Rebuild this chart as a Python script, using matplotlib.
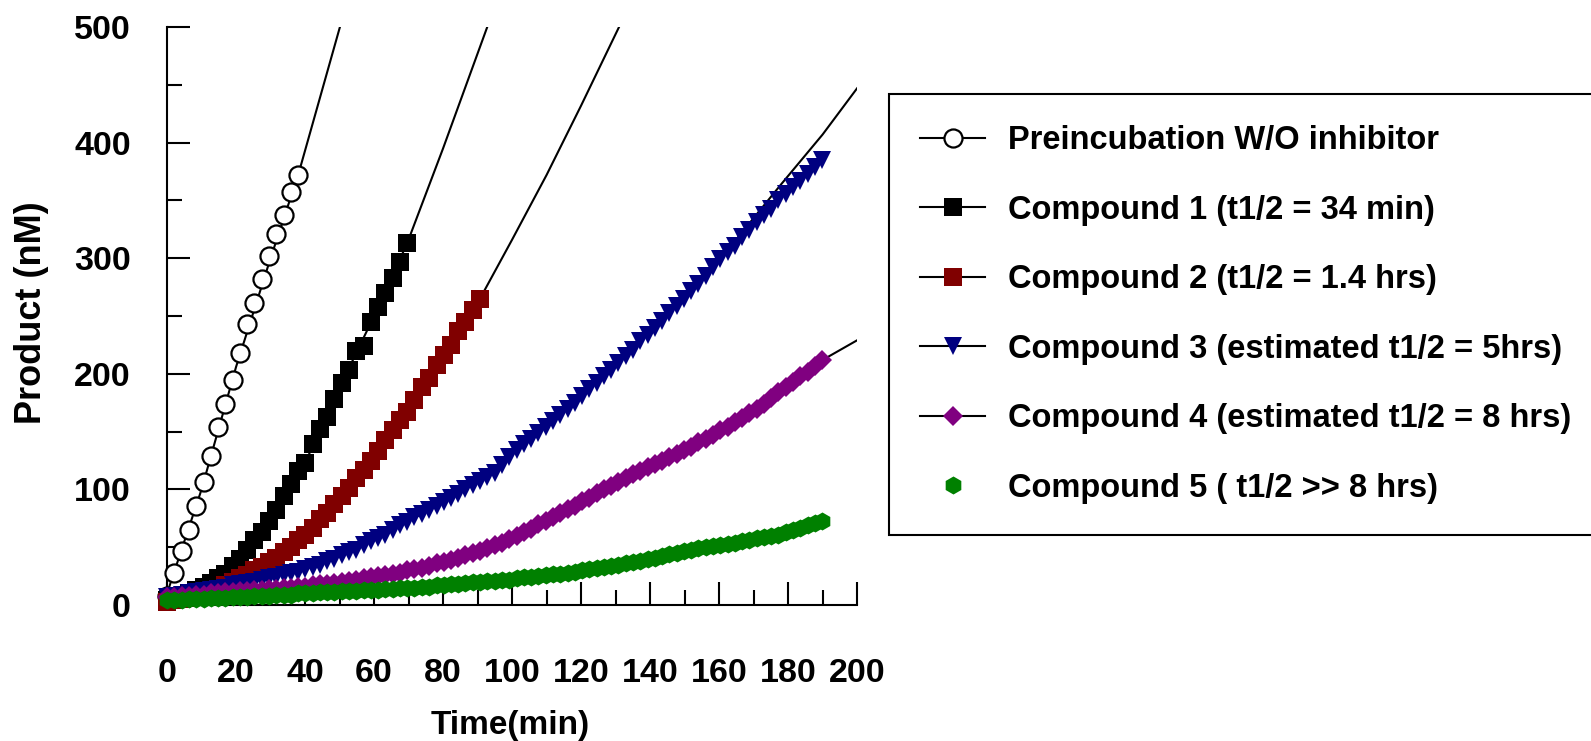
import matplotlib.pyplot as plt
from matplotlib.ticker import MultipleLocator
from matplotlib.legend_handler import HandlerTuple

plt.rcParams['font.family'] = 'Liberation Sans'
plt.rcParams['font.weight'] = 'bold'
plt.rcParams['axes.labelweight'] = 'bold'

# plate reader sampling times (min)
time_min = [
    0.0, 2.1, 4.2, 6.3, 8.4, 10.6, 12.7, 14.8, 16.9, 19.0,
    21.1, 23.2, 25.3, 27.4, 29.5, 31.7, 33.8, 35.9, 38.0, 40.1,
    42.2, 44.3, 46.4, 48.5, 50.6, 52.8, 54.9, 57.0, 59.1, 61.2,
    63.3, 65.4, 67.5, 69.6, 71.7, 73.9, 76.0, 78.1, 80.2, 82.3,
    84.4, 86.5, 88.6, 90.7, 92.8, 95.0, 97.1, 99.2, 101.3, 103.4,
    105.5, 107.6, 109.7, 111.8, 113.9, 116.1, 118.2, 120.3, 122.4, 124.5,
    126.6, 128.7, 130.8, 132.9, 135.0, 137.2, 139.3, 141.4, 143.5, 145.6,
    147.7, 149.8, 151.9, 154.0, 156.1, 158.3, 160.4, 162.5, 164.6, 166.7,
    168.8, 170.9, 173.0, 175.1, 177.2, 179.4, 181.5, 183.6, 185.7, 187.8,
    189.9]

# product (nM)
preinc = [8, 28, 47, 65, 86, 106, 129, 154, 174, 195, 218, 243, 261, 282,
          302, 321, 337, 357, 372]
cmpd1 = [4, 6, 8, 10, 13, 16, 19, 23, 27, 34,
         40, 48, 56, 63, 73, 82, 94, 105, 116, 123,
         139, 152, 163, 178, 192, 203, 220, 224, 245, 258,
         270, 283, 297, 313]
cmpd2 = [3, 4, 5, 6, 8, 10, 12, 14, 17, 20,
         23, 26, 30, 33, 37, 41, 46, 50, 56, 61,
         67, 74, 80, 87, 94, 101, 110, 117, 125, 133,
         143, 151, 160, 167, 177, 189, 196, 208, 216, 225,
         237, 245, 255, 265]
cmpd3 = [7, 8, 9, 10, 11, 12, 13, 14, 15, 17,
         18, 19, 20, 22, 23, 24, 26, 28, 29, 31,
         33, 35, 38, 40, 43, 46, 48, 52, 55, 58,
         61, 65, 69, 72, 76, 79, 82, 86, 89, 93,
         96, 100, 104, 107, 111, 114, 121, 128, 134, 139,
         144, 149, 154, 159, 164, 170, 175, 181, 187, 192,
         198, 203, 209, 215, 221, 228, 234, 240, 246, 253,
         259, 265, 272, 278, 285, 292, 299, 305, 311, 318,
         324, 331, 337, 343, 350, 356, 362, 367, 373, 379,
         385]
cmpd4 = [7, 7, 8, 8, 9, 9, 10, 10, 11, 11,
         12, 12, 13, 13, 14, 14, 15, 15, 16, 16,
         17, 18, 18, 19, 20, 21, 22, 23, 24, 25,
         26, 27, 28, 30, 31, 32, 34, 36, 37, 39,
         41, 43, 45, 47, 49, 52, 54, 57, 60, 63,
         66, 70, 73, 76, 80, 83, 86, 90, 93, 97,
         100, 103, 106, 110, 113, 116, 119, 122, 125, 128,
         131, 134, 137, 141, 144, 147, 151, 154, 158, 162,
         166, 170, 174, 179, 184, 189, 193, 198, 202, 207,
         212]
cmpd5 = [4, 4, 4, 5, 5, 5, 6, 6, 6, 7,
         7, 7, 8, 8, 8, 9, 9, 9, 10, 10,
         10, 11, 11, 11, 12, 12, 12, 13, 13, 13,
         14, 14, 15, 15, 15, 16, 16, 17, 17, 18,
         18, 19, 20, 20, 21, 21, 22, 22, 23, 24,
         24, 25, 26, 27, 27, 28, 29, 30, 31, 32,
         33, 34, 35, 36, 37, 38, 40, 41, 42, 44,
         45, 47, 48, 49, 50, 51, 52, 53, 54, 55,
         56, 58, 59, 60, 61, 63, 65, 67, 69, 71,
         73]

# fitted progress curves
preinc_fit_t = [0, 10, 20, 30, 38, 50.1]
preinc_fit = [10, 100, 206, 300, 372, 500]
cmpd1_fit_t = [0, 10, 20, 30, 40, 50, 60, 69.6, 80, 92.8]
cmpd1_fit = [4, 15, 37, 75, 123, 188, 250, 313, 395, 500]
cmpd2_fit_t = [0, 20, 40, 60, 80, 90.7, 100, 110, 120, 131]
cmpd2_fit = [3, 21, 61, 128, 215, 265, 316, 372, 432, 500]
cmpd3_fit_t = [0, 20, 40, 60, 80, 100, 120, 140, 160, 178, 190, 200]
cmpd3_fit = [7, 17, 31, 56, 89, 130, 180, 236, 298, 364, 407, 447]
cmpd4_fit_t = [0, 40, 80, 100, 120, 140, 160, 180, 190, 200]
cmpd4_fit = [7, 16, 37, 58, 90, 120, 151, 189, 212, 229]

labels = ['Preincubation W/O inhibitor',
          'Compound 1 (t1/2 = 34 min)',
          'Compound 2 (t1/2 = 1.4 hrs)',
          'Compound 3 (estimated t1/2 = 5hrs)',
          'Compound 4 (estimated t1/2 = 8 hrs)',
          'Compound 5 ( t1/2 >> 8 hrs)']

fig = plt.figure(figsize=(15.91, 7.41), dpi=100)
ax = fig.add_axes([0.105, 0.1835, 0.4337, 0.78])

fit_kw = dict(color='black', lw=1.5, zorder=2)
f0, = ax.plot(preinc_fit_t, preinc_fit, **fit_kw)
f1, = ax.plot(cmpd1_fit_t, cmpd1_fit, **fit_kw)
f2, = ax.plot(cmpd2_fit_t, cmpd2_fit, **fit_kw)
f3, = ax.plot(cmpd3_fit_t, cmpd3_fit, **fit_kw)
f4, = ax.plot(cmpd4_fit_t, cmpd4_fit, **fit_kw)

pt_kw = dict(ls='none', clip_on=False, zorder=3)
m0, = ax.plot(time_min[:len(preinc)], preinc, marker='o', ms=13,
              mfc='white', mec='black', mew=1.6, **pt_kw)
m1, = ax.plot(time_min[:len(cmpd1)], cmpd1, marker='s', ms=12.5,
              color='black', mew=0, **pt_kw)
m2, = ax.plot(time_min[:len(cmpd2)], cmpd2, marker='s', ms=12.5,
              color='#800000', mew=0, **pt_kw)
m3, = ax.plot(time_min[:len(cmpd3)], cmpd3, marker='v', ms=13.5,
              color='#000080', mew=0, **pt_kw)
m4, = ax.plot(time_min[:len(cmpd4)], cmpd4, marker='D', ms=10,
              color='#800080', mew=0, **pt_kw)
m5, = ax.plot(time_min[:len(cmpd5)], cmpd5, marker='h', ms=13,
              color='#008000', mew=0, **pt_kw)

ax.set_xlim(0, 200)
ax.set_ylim(0, 500)
ax.xaxis.set_major_locator(MultipleLocator(20))
ax.xaxis.set_minor_locator(MultipleLocator(10))
ax.yaxis.set_major_locator(MultipleLocator(100))
ax.yaxis.set_minor_locator(MultipleLocator(50))
ax.tick_params(which='both', direction='in', width=1.5, top=False, right=False)
ax.tick_params(which='major', length=16.5, labelsize=24.5)
ax.tick_params(which='minor', length=11)
ax.tick_params(axis='y', pad=26)
ax.tick_params(axis='x', pad=38)
for side in ['top', 'right']:
    ax.spines[side].set_visible(False)
for side in ['left', 'bottom']:
    ax.spines[side].set_linewidth(1.5)

ax.set_xlabel('Time(min)', fontsize=24)
ax.set_ylabel('Product (nM)', fontsize=26)
ax.xaxis.set_label_coords(0.497, -0.182)
ax.yaxis.set_label_coords(-0.171, 0.505)

handles = [(f0, m0), (f1, m1), (f2, m2), (f3, m3), (f4, m4), m5]
leg = ax.legend(handles, labels,
                handler_map={tuple: HandlerTuple(ndivide=1, pad=0)},
                loc='upper left', bbox_to_anchor=(889 / 1591, 1 - 94 / 741),
                bbox_transform=fig.transFigure, borderaxespad=0,
                fancybox=False, edgecolor='black', framealpha=1,
                borderpad=0.95, handlelength=2.0, handletextpad=0.7,
                labelspacing=1.18,
                prop={'weight': 'bold', 'size': 23.5})
leg.get_frame().set_linewidth(1.5)

fig.savefig('out.png', dpi=100)
